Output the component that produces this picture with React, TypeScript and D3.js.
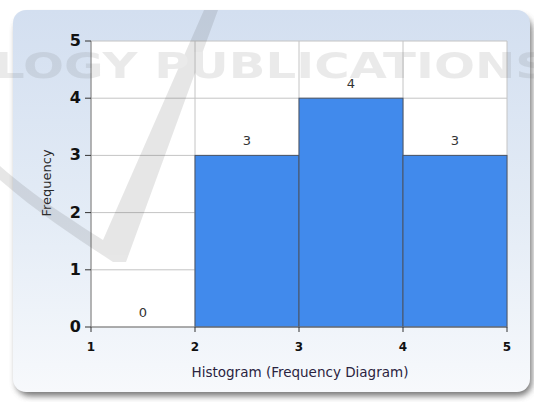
import React from "react";
import * as d3 from "d3";

const binStarts = [1, 2, 3, 4];
const binEnds = [2, 3, 4, 5];
const frequencies = [0, 3, 4, 3];
const xTicks = [1, 2, 3, 4, 5];
const yTicks = [0, 1, 2, 3, 4, 5];
const xTitle = "Histogram (Frequency Diagram)";
const yTitle = "Frequency";

export default function App() {
  const W = 534, H = 402;
  const left = 91, right = 507, top = 41, bottom = 327;
  const x = d3.scaleLinear().domain([1, 5]).range([left, right]);
  const y = d3.scaleLinear().domain([0, 5]).range([bottom, top]);
  const font = "'DejaVu Sans', Verdana, sans-serif";
  return (
    <svg width={W} height={H} style={{ position: "absolute", left: 0, top: 0, display: "block" }}>
      <defs>
        <linearGradient id="panelGrad" x1="0" y1="0" x2="0" y2="1">
          <stop offset="0" stopColor="#d3dff0" />
          <stop offset="0.55" stopColor="#e4ecf6" />
          <stop offset="1" stopColor="#f7f9fc" />
        </linearGradient>
        <filter id="shadow" x="-10%" y="-10%" width="120%" height="130%">
          <feGaussianBlur stdDeviation="3" />
        </filter>
      </defs>
      <rect x={0} y={0} width={W} height={H} fill="#ffffff" />
      <rect x={16} y={16} width={516} height={380} rx={14} fill="#555" opacity={0.8} filter="url(#shadow)" />
      <rect x={13} y={10} width={517} height={382} rx={13} fill="url(#panelGrad)" />
      <rect x={left} y={top} width={right - left} height={bottom - top} fill="#ffffff" />
      {yTicks.map((t) => (
        <line key={"gy" + t} x1={left} x2={right} y1={y(t)} y2={y(t)} stroke="#c4c4c4" strokeWidth={1} />
      ))}
      {xTicks.map((t) => (
        <line key={"gx" + t} x1={x(t)} x2={x(t)} y1={top} y2={bottom} stroke="#c4c4c4" strokeWidth={1} />
      ))}
      {frequencies.map((f, i) =>
        f > 0 ? (
          <rect
            key={"b" + i}
            x={x(binStarts[i])}
            y={y(f)}
            width={x(binEnds[i]) - x(binStarts[i])}
            height={y(0) - y(f)}
            fill="#418aec"
            stroke="#4a5566"
            strokeWidth={1}
          />
        ) : null
      )}
      {frequencies.map((f, i) => (
        <text
          key={"v" + i}
          x={(x(binStarts[i]) + x(binEnds[i])) / 2}
          y={y(f) - 10}
          textAnchor="middle"
          fontFamily={font}
          fontSize={13}
          fill="#333"
        >
          {f}
        </text>
      ))}
      <line x1={left} x2={left} y1={top} y2={bottom} stroke="#888" />
      <line x1={left} x2={right} y1={bottom} y2={bottom} stroke="#777" />
      {yTicks.map((t) => (
        <g key={"yt" + t}>
          <line x1={left - 6} x2={left} y1={y(t)} y2={y(t)} stroke="#333" />
          <text x={left - 10} y={y(t) + 5} textAnchor="end" fontFamily={font} fontWeight="bold" fontSize={16} fill="#111">
            {t}
          </text>
        </g>
      ))}
      {xTicks.map((t) => (
        <g key={"xt" + t}>
          <line x1={x(t)} x2={x(t)} y1={bottom} y2={bottom + 5} stroke="#333" />
          <text x={x(t)} y={bottom + 24} textAnchor="middle" fontFamily={font} fontWeight="bold" fontSize={12} fill="#111">
            {t}
          </text>
        </g>
      ))}
      <text x={300} y={377} textAnchor="middle" fontFamily={font} fontSize={13.5} fill="#2a2340">
        {xTitle}
      </text>
      <text
        transform={`translate(51, 183) rotate(-90)`}
        textAnchor="middle"
        fontFamily={font}
        fontSize={13}
        fill="#2a2a2a"
      >
        {yTitle}
      </text>
      <g opacity={0.13} pointerEvents="none">
        <path
          d="M 0 180 C 40 215, 80 240, 113 262 L 126 262 L 218 10 L 204 10 L 103 240 C 75 222, 35 197, 0 166 Z"
          fill="#444"
        />
        <text x={-6} y={78} fontFamily="'DejaVu Sans', sans-serif" fontWeight="bold" fontSize={36} fill="#666" textLength={556} lengthAdjust="spacingAndGlyphs">
          LOGY PUBLICATIONS
        </text>
      </g>
    </svg>
  );
}
